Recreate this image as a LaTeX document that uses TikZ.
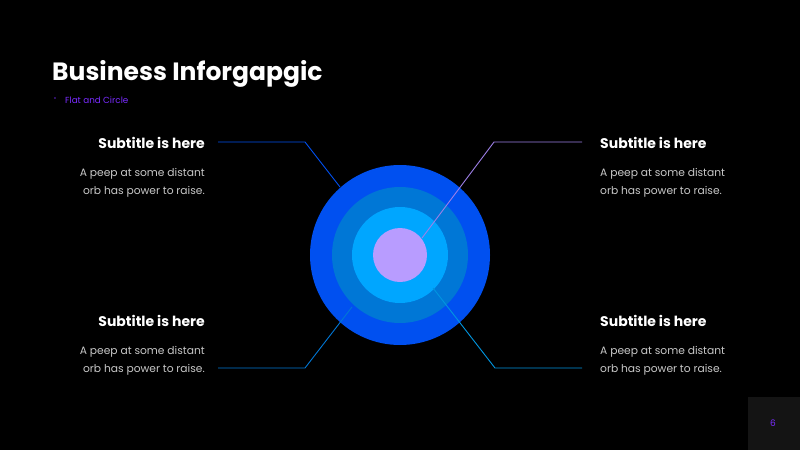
\documentclass[tikz,border=0pt]{standalone}
\usepackage{fontspec}
\setmainfont{Poppins}
\definecolor{ringA}{HTML}{0050F0}
\definecolor{ringB}{HTML}{0077D6}
\definecolor{ringC}{HTML}{00A6FF}
\definecolor{ringD}{HTML}{B89CFF}
\definecolor{lineD}{HTML}{9E80E8}
\definecolor{lineC}{HTML}{0096E0}
\definecolor{bodygray}{HTML}{C8C8C8}
\definecolor{accent}{HTML}{7A2CFF}
\definecolor{pagebox}{HTML}{141414}
\tikzset{
  head/.style={text=white,font=\fontsize{14}{16}\selectfont\bfseries,inner sep=0pt},
  body/.style={text=bodygray,font=\fontsize{10.7}{18}\selectfont,inner sep=0pt,align=#1},
  conn/.style={line width=0.9pt}
}
\begin{document}
\begin{tikzpicture}[x=1pt,y=-1pt]
\fill[black] (0,0) rectangle (800,450);
\useasboundingbox (0,0) rectangle (800,450);
% page box
\fill[pagebox] (748,397) rectangle (800,450);
\node[text=accent,font=\fontsize{9}{10}\selectfont] (pg) at (773,423) {6};
% title
\node[anchor=base west,text=white,font=\fontsize{25}{28}\selectfont\bfseries,inner sep=0pt] (title) at (52,80) {Business Inforgapgic};
\node[anchor=base west,text=accent,font=\fontsize{8.8}{10}\selectfont,inner sep=0pt] (sub) at (65,103) {Flat and Circle};
\node[text=accent,font=\fontsize{6}{8}\selectfont,inner sep=0pt] (bul) at (55,99) {•};
% rings
\fill[ringA] (400,255) circle (90);
\fill[ringB] (400,255) circle (68);
\fill[ringC] (400,255) circle (48);
\fill[ringD] (400,255) circle (27);
\coordinate (eA) at (340,187);
\coordinate (eD) at (422,238);
\coordinate (eB) at (352,307);
\coordinate (eC) at (433,288);
\coordinate (kA) at (305,142);
\coordinate (sA) at (218,142);
\coordinate (kD) at (494,142);
\coordinate (sD) at (582,142);
\coordinate (kB) at (305,368);
\coordinate (sB) at (218,368);
\coordinate (kC) at (495,368);
\coordinate (sC) at (582,368);
\draw[conn,ringA] (sA) -- (kA) -- (eA);
\draw[conn,lineD] (sD) -- (kD) -- (eD);
\draw[conn,ringB] (sB) -- (kB) -- (eB);
\draw[conn,lineC] (sC) -- (kC) -- (eC);
% text blocks
\node[head,anchor=base east] (h1) at (205,148) {Subtitle is here};
\node[body=right,anchor=north east] (b1) at (205,168) {A peep at some distant\\orb has power to raise.};
\node[head,anchor=base west] (h2) at (600,148) {Subtitle is here};
\node[body=left,anchor=north west] (b2) at (600,168) {A peep at some distant\\orb has power to raise.};
\node[head,anchor=base east] (h3) at (205,326) {Subtitle is here};
\node[body=right,anchor=north east] (b3) at (205,346) {A peep at some distant\\orb has power to raise.};
\node[head,anchor=base west] (h4) at (600,326) {Subtitle is here};
\node[body=left,anchor=north west] (b4) at (600,346) {A peep at some distant\\orb has power to raise.};
\end{tikzpicture}
\end{document}
